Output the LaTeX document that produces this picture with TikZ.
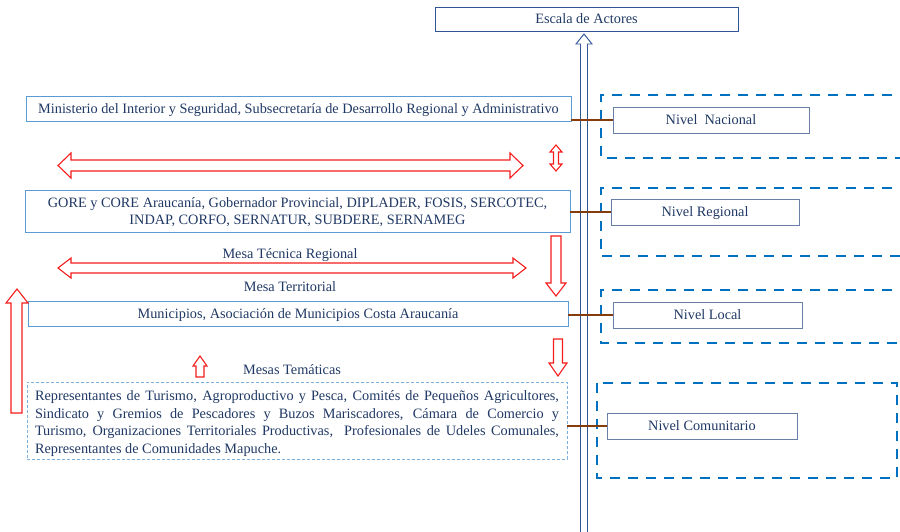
\documentclass[tikz,border=0pt]{standalone}
\usepackage{fontspec}
\setmainfont{Liberation Serif}
\usepackage{xcolor}
\usetikzlibrary{positioning}
\definecolor{tinta}{HTML}{1F3864}
\definecolor{celeste}{HTML}{5B9BD5}
\definecolor{gris}{HTML}{6A7FA8}
\definecolor{azul}{HTML}{2F5597}
\definecolor{rojo}{HTML}{F51C1C}
\definecolor{cafe}{HTML}{843C0C}
\definecolor{zona}{HTML}{0070C0}
\tikzset{
  actor/.style={draw=celeste, line width=0.8pt, text=tinta, align=center,
    font=\fontsize{14.3}{17.5}\selectfont, inner sep=0pt, text depth=0pt},
  nivel/.style={draw=gris, line width=0.9pt, text=tinta, minimum height=26pt,
    font=\fontsize{14.3}{17.5}\selectfont, inner sep=0pt, text depth=0pt},
  etiqueta/.style={text=tinta, font=\fontsize{14.3}{17.5}\selectfont, inner sep=0pt},
  nivelzona/.style={draw=zona, line width=2.5pt, dash pattern=on 10pt off 8pt},
  hueca/.style={draw=rojo, line width=1.1pt, fill=white},
  enlace/.style={draw=cafe, line width=2.4pt}
}
\begin{document}
\begin{tikzpicture}[x=1pt,y=-1pt]
\useasboundingbox (0,0) rectangle (900,531);
% zonas de nivel
\draw [nivelzona] (910,95) -- (601,95) -- (601,158) -- (910,158);
\draw [nivelzona] (910,188) -- (601,188) -- (601,256) -- (910,256);
\draw [nivelzona] (910,290) -- (601,290) -- (601,343) -- (910,343);
\draw [nivelzona] (597,383) rectangle (897,478);
% eje de escala
\draw [azul, line width=0.9pt, fill=white] (580.5,545) -- (580.5,44) -- (576,44) -- (584,34)
  -- (592,44) -- (587.5,44) -- (587.5,545);
\node [draw=azul, line width=0.8pt, text=tinta, minimum width=303pt, minimum height=24pt,
  inner sep=0pt, text depth=0pt, font=\fontsize{14.3}{17.5}\selectfont] (escala) at (586.5,19)
  {Escala de Actores};
% actores
\node [actor, minimum width=545pt, minimum height=25pt] (ministerio) at (298.5,108.5)
  {Ministerio del Interior y Seguridad, Subsecretaría de Desarrollo Regional y Administrativo};
\node [actor, minimum width=545pt, minimum height=42pt] (gore) at (297.5,211)
  {GORE y CORE Araucanía, Gobernador Provincial, DIPLADER, FOSIS, SERCOTEC,\\
   INDAP, CORFO, SERNATUR, SUBDERE, SERNAMEG};
\node [actor, minimum width=540pt, minimum height=25pt] (municipios) at (298,313.5)
  {Municipios, Asociación de Municipios Costa Araucanía};
\node [actor, text depth=, draw=celeste!80, line width=0.6pt, densely dashed, minimum width=540pt,
  minimum height=77pt, text width=524pt, align=justify] (comunidad) at (297,420.5)
  {\rule{0pt}{16pt}Representantes de Turismo, Agroproductivo y Pesca, Comités de Pequeños Agricultores,\linebreak
   Sindicato y Gremios de Pescadores y Buzos Mariscadores, Cámara de Comercio y\linebreak
   Turismo, Organizaciones Territoriales Productivas,\ \ Profesionales de Udeles Comunales,\linebreak
   Representantes de Comunidades Mapuche.\par};
% niveles
\node [nivel, minimum width=196pt] (nacional) at (711,120) {Nivel\ \ Nacional};
\node [nivel, minimum width=188pt] (regional) at (705,212) {Nivel Regional};
\node [nivel, minimum width=189pt] (local) at (707.5,315) {Nivel Local};
\node [nivel, minimum width=190pt] (comunitario) at (702,426) {Nivel Comunitario};
\draw [enlace] (nacional.west -| ministerio.east) -- (nacional.west);
\draw [enlace] (regional.west -| gore.east) -- (regional.west);
\draw [enlace] (local.west -| municipios.east) -- (local.west);
\draw [enlace] (comunitario.west -| comunidad.east) -- (comunitario.west);
% mesas
\node [etiqueta] (tecnica) at (290,255) {Mesa Técnica Regional};
\node [etiqueta] (territorial) at (290,287) {Mesa Territorial};
\node [etiqueta] (tematicas) at (292,370) {Mesas Temáticas};
% flechas huecas
\draw [hueca] (58,165.5) -- (71,153) -- (71,160) -- (510,160) -- (510,153) -- (523,165.5)
  -- (510,178) -- (510,171) -- (71,171) -- (71,178) -- cycle;
\draw [hueca] (556,145) -- (562,152) -- (558.5,152) -- (558.5,164) -- (562,164) -- (556,171)
  -- (550,164) -- (553.5,164) -- (553.5,152) -- (550,152) -- cycle;
\draw [hueca] (58,268) -- (71,258) -- (71,263) -- (513,263) -- (513,258) -- (526,268)
  -- (513,278) -- (513,273) -- (71,273) -- (71,278) -- cycle;
\draw [hueca] (551,236) -- (561,236) -- (561,283) -- (566,283) -- (556,296) -- (546,283)
  -- (551,283) -- cycle;
\draw [hueca] (11,413) -- (11,303) -- (6,303) -- (17,289) -- (28,303) -- (22,303)
  -- (22,413) -- cycle;
\draw [hueca] (196,377) -- (196,366) -- (193,366) -- (200,356) -- (207,366) -- (204,366)
  -- (204,377) -- cycle;
\draw [hueca] (553.5,339) -- (562.5,339) -- (562.5,363) -- (567,363) -- (558,376) -- (549,363)
  -- (553.5,363) -- cycle;
\end{tikzpicture}
\end{document}
